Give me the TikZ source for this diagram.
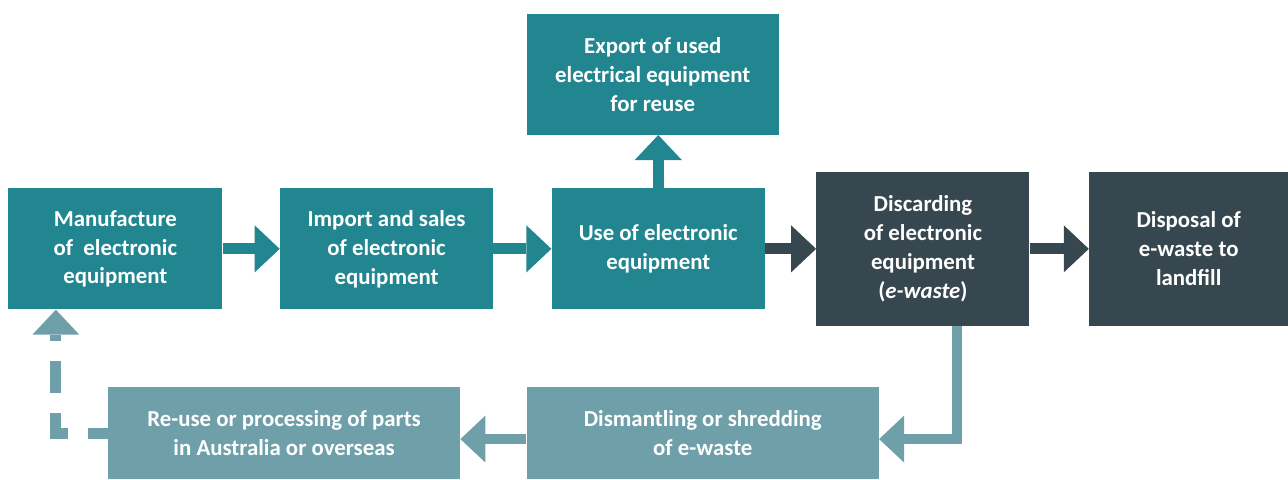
\documentclass[tikz,border=0pt]{standalone}
\usepackage{fontspec}
\setmainfont{Carlito}
\usetikzlibrary{positioning, arrows.meta, calc}
\definecolor{ewteal}{HTML}{21868F}
\definecolor{ewdark}{HTML}{37474F}
\definecolor{ewlight}{HTML}{6FA0AA}

\begin{document}
\begin{tikzpicture}[
    b/.style={fill=ewteal, text=white, font=\fontsize{13}{16.5}\selectfont\bfseries, minimum width=4.26cm, minimum height=2.42cm, align=center, inner sep=0pt},
    bd/.style={b, fill=ewdark, minimum height=3.08cm},
    bl/.style={b, fill=ewlight, minimum width=7.04cm, minimum height=1.84cm},
    arr/.style={line width=0.22cm, -{Triangle[width=0.94cm, length=0.5cm, line width=0pt]}}]
  \useasboundingbox (0,0) rectangle (25.76,-9.58);
  \node[b, minimum width=4.28cm, anchor=north west] (man) at (0.16,-3.76) {Manufacture\\of\ \ electronic\\equipment};
  \node[b, right=1.14cm of man] (imp) {Import and sales\\of electronic\\equipment};
  \node[b, right=1.16cm of imp] (use) {Use of electronic\\equipment};
  \node[b, minimum width=5.04cm, above=1.06cm of use, xshift=-0.11cm] (exp) {Export of used\\electrical equipment\\for reuse};
  \node[bd, right=1.02cm of use] (dis) {Discarding\\of electronic\\equipment\\(\textit{e-waste})};
  \node[bd, minimum width=3.98cm, right=1.18cm of dis] (dsp) {Disposal of\\e-waste to\\landfill};
  \node[bl, anchor=north west] (dsm) at ($(use.south west)+(-0.5,-1.54)$) {Dismantling or shredding\\of e-waste};
  \node[bl, left=1.32cm of dsm] (reu) {Re-use or processing of parts\\in Australia or overseas};
  \draw[arr, ewteal] (man) -- (imp);
  \draw[arr, ewteal] (imp) -- (use);
  \draw[arr, ewteal] (use.north) -- (use.north |- exp.south);
  \draw[arr, ewdark] (use) -- (dis);
  \draw[arr, ewdark] (dis) -- (dsp);
  \draw[arr, ewlight, line width=0.2cm] ([xshift=0.69cm]dis.south) |- ([yshift=-0.12cm]dsm.east);
  \draw[arr, ewlight, line width=0.2cm] ([yshift=-0.12cm]dsm.west) -- ([yshift=-0.12cm]reu.east);
  \draw[arr, ewlight, dash pattern=on 0.64cm off 0.4cm, dash phase=0.24cm] (reu.west) -| ([xshift=-1.19cm]man.south);
\end{tikzpicture}
\end{document}
